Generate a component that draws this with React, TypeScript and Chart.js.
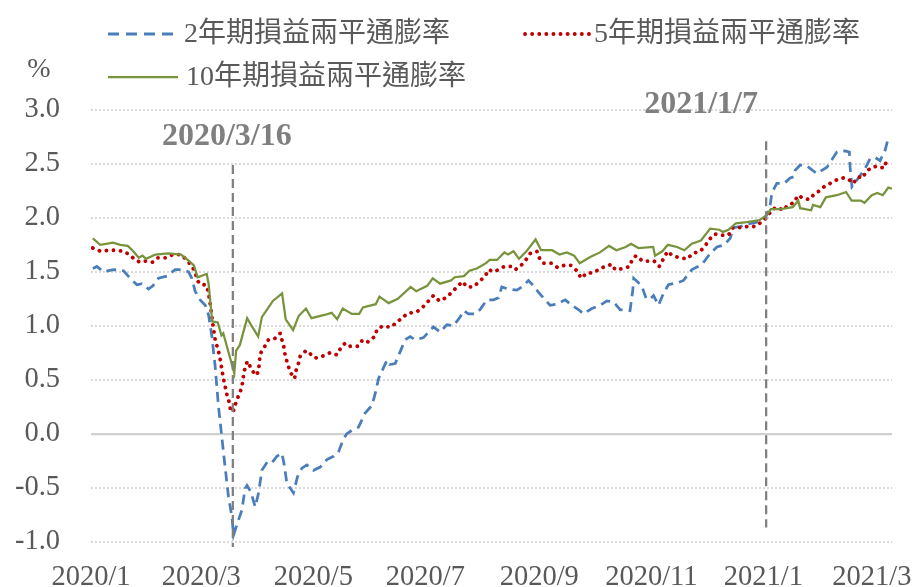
import React, { useEffect, useRef } from 'react';
import { Chart, registerables } from 'chart.js';

Chart.register(...registerables);

// x values are days counted from 2020-01-01
const tickDays = [0, 60, 121, 182, 244, 305, 366, 425];
const tickLabels = ['2020/1', '2020/3', '2020/5', '2020/7', '2020/9', '2020/11', '2021/1', '2021/3'];

const seriesNames = ['2年期損益兩平通膨率', '5年期損益兩平通膨率', '10年期損益兩平通膨率'];
const unitLabel = '%';

const days2y = [1,3.2,6.8,12.2,17.7,21.3,25,27.7,31.3,33.7,36.7,41.3,45.8,49.5,53.1,54.9,56.7,59.4,62.2,64,65.8,67.6,69.4,71.2,73,74.8,76.7,77.6,79.7,82.1,83.9,84.9,87,89.4,91.2,93,96.1,98.5,101.2,103.9,105.2,106.6,110.2,112.4,114.8,117.5,121.1,124.8,128.4,132,134.7,137.4,139.3,142,145.6,149.2,152.9,154.7,156.5,159.2,161.1,162.5,165.6,168.3,171,173.7,176.5,181,183.7,186.4,190.1,193.7,197.3,200.9,202.8,205.5,209.1,211.8,215.5,219.1,221.8,223.6,227.2,231.8,235.4,238.1,240.9,243.6,247.2,249.9,253.6,258.1,261.7,265.3,268.1,272.6,277.1,280.8,284.4,288,293.4,294.9,295.4,299.8,302.2,304.4,306.2,308.9,311.6,314.3,319.6,322.5,327.1,332.7,337,340.7,344.7,347.9,349.7,353.4,357,362.5,366,367.9,369.7,370.6,373.3,377.3,380.6,382.4,383.3,386,389.7,395.1,400.6,406,410.5,412.8,413.2,414.2,417.8,421.4,424.1,426.8,429.5,432.3,433.5,435.4];
const vals2y = [1.53,1.55,1.50,1.52,1.51,1.44,1.38,1.39,1.34,1.37,1.44,1.46,1.52,1.52,1.50,1.44,1.32,1.24,1.19,1.10,0.90,0.62,0.25,-0.03,-0.31,-0.58,-0.77,-0.94,-0.83,-0.71,-0.51,-0.48,-0.54,-0.68,-0.55,-0.34,-0.26,-0.27,-0.21,-0.18,-0.29,-0.46,-0.55,-0.40,-0.32,-0.29,-0.34,-0.31,-0.24,-0.21,-0.17,-0.05,0.00,0.03,0.06,0.19,0.26,0.37,0.51,0.61,0.68,0.64,0.65,0.76,0.87,0.90,0.87,0.89,0.94,0.99,0.94,1.01,1.00,1.08,1.14,1.11,1.11,1.15,1.24,1.24,1.26,1.36,1.34,1.33,1.37,1.42,1.37,1.31,1.24,1.19,1.20,1.24,1.19,1.15,1.11,1.16,1.19,1.23,1.22,1.15,1.14,1.33,1.44,1.37,1.25,1.25,1.28,1.19,1.30,1.38,1.40,1.42,1.52,1.57,1.67,1.73,1.75,1.81,1.91,1.92,1.94,1.96,1.98,2.03,2.12,2.23,2.32,2.32,2.37,2.38,2.44,2.49,2.48,2.41,2.47,2.61,2.62,2.61,2.47,2.29,2.37,2.46,2.55,2.56,2.53,2.63,2.71,2.67];

const days5y = [1,5.4,9.5,13.6,17.4,21,24,26.8,29.9,33.5,36.4,40.9,44.6,48.9,52.2,54.9,56.7,57.8,59.8,62.5,63.6,64.5,66.3,67.6,69.9,72.1,74,75.4,76.1,77.9,79,80.8,82.1,82.7,83.4,84.9,85.7,87,89.9,91.2,91.6,92.1,94.3,96.6,99.9,103,103.9,105.2,105.7,107,108.4,110.8,111.5,112.9,113.9,117.1,119.3,122,126.2,130.2,133.8,136.2,138.4,141.1,145.3,147.9,150.9,154.4,155.8,159.2,161.4,163.8,166.5,168.8,171.9,174.3,177.4,181,183.7,186.4,189.7,193.3,196.4,199.2,202.2,204.6,208.2,211.3,214.6,216.4,219.6,222.7,225.1,228.7,230.9,233.6,236.7,239.1,242.7,244.5,246.3,250.5,253.9,257.7,261.2,264.5,266.8,269.9,273.5,277.1,279.9,283.5,285.3,289.8,293.2,294.7,296.7,300.2,304.4,306.5,309.3,311.6,313.8,316.5,320.3,324.7,327.4,331.6,334.3,336.6,339.4,343.4,347,349.4,353.4,357.3,361.5,364.8,368.3,370.2,373.3,376.9,379.3,382.6,384.8,387.8,391.1,393.6,396.5,399.1,402.4,405.6,409.4,412.2,414.9,417.6,420.1,421.9,425.2,428.2,431.6,433.1];
const vals5y = [1.72,1.69,1.70,1.70,1.69,1.66,1.61,1.59,1.60,1.59,1.63,1.63,1.66,1.66,1.61,1.55,1.50,1.42,1.38,1.38,1.33,1.25,1.02,0.87,0.73,0.51,0.36,0.28,0.20,0.22,0.30,0.37,0.43,0.50,0.58,0.66,0.67,0.60,0.54,0.58,0.66,0.74,0.80,0.87,0.88,0.93,0.87,0.79,0.72,0.65,0.57,0.51,0.58,0.65,0.72,0.77,0.74,0.70,0.72,0.75,0.73,0.80,0.84,0.81,0.81,0.87,0.85,0.90,0.97,1.00,0.99,0.99,1.04,1.06,1.11,1.12,1.13,1.18,1.23,1.28,1.23,1.26,1.31,1.36,1.41,1.36,1.36,1.41,1.46,1.52,1.50,1.53,1.55,1.55,1.52,1.55,1.61,1.67,1.69,1.61,1.58,1.58,1.54,1.56,1.56,1.51,1.44,1.49,1.49,1.53,1.55,1.57,1.52,1.53,1.55,1.62,1.65,1.60,1.60,1.60,1.55,1.62,1.69,1.65,1.63,1.62,1.67,1.69,1.74,1.80,1.85,1.84,1.84,1.91,1.91,1.92,1.92,1.96,2.01,2.07,2.10,2.07,2.12,2.14,2.21,2.18,2.17,2.22,2.25,2.29,2.32,2.35,2.37,2.36,2.32,2.38,2.37,2.43,2.47,2.48,2.46,2.53];

const days10y = [1,5,12,16,20,23,26,28,30,35,42,49,52,56,58,63,64,66,69,71,72,78,79,81,85,87,91,93,99,104,106,110,113,117,120,127,131,134,137,142,146,148,155,157,162,167,174,177,183,186,190,196,198,203,206,210,215,217,221,225,227,230,233,237,242,245,251,255,259,263,266,272,277,282,286,291,294,298,306,307,311,314,319,323,327,332,337,342,344,347,351,357,364,368,370,375,382,385,386,392,393,397,400,406,411,414,419,421,425,428,431,434,436];
const vals10y = [1.81,1.75,1.77,1.75,1.74,1.69,1.63,1.65,1.62,1.66,1.67,1.66,1.62,1.56,1.45,1.48,1.39,1.04,1.03,0.91,0.93,0.56,0.77,0.82,1.07,1.01,0.90,1.08,1.23,1.30,1.06,0.96,1.09,1.16,1.07,1.10,1.12,1.06,1.16,1.11,1.11,1.17,1.20,1.27,1.21,1.25,1.36,1.32,1.37,1.44,1.39,1.42,1.45,1.46,1.51,1.53,1.58,1.61,1.61,1.68,1.66,1.69,1.62,1.69,1.80,1.70,1.70,1.66,1.68,1.65,1.58,1.64,1.68,1.74,1.70,1.73,1.76,1.72,1.73,1.65,1.69,1.75,1.73,1.70,1.76,1.79,1.90,1.89,1.87,1.89,1.95,1.96,1.98,2.03,2.08,2.08,2.10,2.16,2.09,2.07,2.12,2.10,2.19,2.21,2.24,2.16,2.16,2.14,2.21,2.23,2.21,2.28,2.27];

const annotationLabels = ['2020/3/16', '2021/1/7'];

const COLORS = { blue: '#4a7ebb', red: '#c00000', green: '#77933c', gray: '#7f7f7f', text: '#595959' };
const SERIF = '"Liberation Serif", "Times New Roman", serif';
const LEGEND_FONT = '28px "Liberation Serif", "Noto Sans CJK TC", serif';

const toPoints = (xs: number[], ys: number[]) => xs.map((x, i) => ({ x, y: ys[i] }));

// Annotation geometry in data units (x: day, y: value)
const annotations = [
  { lineX: 77.2, yTop: 2.49, yBottom: -1.05, textX: 73.9, textY: 2.75, label: annotationLabels[0] },
  { lineX: 367.5, yTop: 2.71, yBottom: -0.87, textX: 332.1, textY: 3.05, label: annotationLabels[1] },
];

const overlayPlugin = {
  id: 'overlay',
  afterDatasetsDraw(chart: any) {
    const { ctx, scales } = chart;
    const xs = scales.x;
    const ys = scales.y;
    ctx.save();
    annotations.forEach((a) => {
      const px = xs.getPixelForValue(a.lineX);
      ctx.strokeStyle = COLORS.gray;
      ctx.lineWidth = 2.25;
      ctx.setLineDash([9, 5]);
      ctx.beginPath();
      ctx.moveTo(px, ys.getPixelForValue(a.yTop));
      ctx.lineTo(px, ys.getPixelForValue(a.yBottom));
      ctx.stroke();
      ctx.setLineDash([]);
      ctx.fillStyle = COLORS.gray;
      ctx.font = 'bold 32px ' + SERIF;
      ctx.textAlign = 'center';
      ctx.textBaseline = 'middle';
      ctx.fillText(a.label, xs.getPixelForValue(a.textX), ys.getPixelForValue(a.textY));
    });
    ctx.restore();
  },
  afterDraw(chart: any) {
    const { ctx } = chart;
    ctx.save();
    const drawSample = (x0: number, x1: number, y: number, color: string, width: number, dash: number[], cap: CanvasLineCap) => {
      ctx.strokeStyle = color;
      ctx.lineWidth = width;
      ctx.lineCap = cap;
      ctx.setLineDash(dash);
      ctx.beginPath();
      ctx.moveTo(x0, y);
      ctx.lineTo(x1, y);
      ctx.stroke();
      ctx.setLineDash([]);
      ctx.lineCap = 'butt';
    };
    drawSample(108, 175, 34, COLORS.blue, 3, [11, 7], 'butt');
    drawSample(525, 590, 34, COLORS.red, 3.8, [0.1, 7], 'round');
    drawSample(108, 178, 77, COLORS.green, 2.25, [], 'butt');

    ctx.fillStyle = COLORS.text;
    ctx.font = LEGEND_FONT;
    ctx.textAlign = 'left';
    ctx.textBaseline = 'middle';
    ctx.fillText(seriesNames[0], 184, 35);
    ctx.fillText(seriesNames[1], 594, 35);
    ctx.fillText(seriesNames[2], 186, 78);

    ctx.font = '28px ' + SERIF;
    ctx.textAlign = 'center';
    ctx.fillText(unitLabel, 39, 70);
    ctx.restore();
  },
};

const zeroPadding = (s: any) => {
  s.paddingLeft = 0;
  s.paddingRight = 0;
  s.paddingTop = 0;
  s.paddingBottom = 0;
};

export default function App() {
  const canvasRef = useRef<HTMLCanvasElement | null>(null);

  useEffect(() => {
    const canvas = canvasRef.current;
    if (!canvas) return;
    const chart = new Chart(canvas, {
      type: 'line',
      data: {
        datasets: [
          {
            label: seriesNames[0],
            data: toPoints(days2y, vals2y),
            borderColor: COLORS.blue,
            borderWidth: 2.75,
            borderDash: [10, 6],
            pointRadius: 0,
            tension: 0,
            order: 3,
          },
          {
            label: seriesNames[1],
            data: toPoints(days5y, vals5y),
            borderColor: COLORS.red,
            borderWidth: 3.8,
            borderDash: [0.1, 7],
            borderCapStyle: 'round',
            pointRadius: 0,
            tension: 0,
            order: 2,
          },
          {
            label: seriesNames[2],
            data: toPoints(days10y, vals10y),
            borderColor: COLORS.green,
            borderWidth: 2.25,
            pointRadius: 0,
            tension: 0,
            order: 1,
          },
        ],
      },
      options: {
        responsive: false,
        animation: false,
        devicePixelRatio: 1,
        layout: { padding: { top: 110, right: 22, left: 0, bottom: 0 } },
        plugins: { legend: { display: false }, tooltip: { enabled: false } },
        scales: {
          x: {
            type: 'linear',
            min: 0,
            max: 436,
            grid: { display: false },
            border: { display: false },
            afterBuildTicks: (s: any) => {
              s.ticks = tickDays.map((v) => ({ value: v }));
            },
            afterFit: (s: any) => {
              s.height = 45.5;
              zeroPadding(s);
            },
            ticks: {
              autoSkip: false,
              maxRotation: 0,
              minRotation: 0,
              padding: 11,
              color: COLORS.text,
              font: { family: SERIF, size: 28.5 },
              callback: (v: any) => {
                const i = tickDays.indexOf(Number(v));
                return i >= 0 ? tickLabels[i] : '';
              },
            },
          },
          y: {
            type: 'linear',
            min: -1,
            max: 3,
            afterFit: (s: any) => {
              s.width = 91;
              zeroPadding(s);
            },
            ticks: {
              stepSize: 0.5,
              padding: 31,
              color: COLORS.text,
              font: { family: SERIF, size: 28.5 },
              callback: (v: any) => Number(v).toFixed(1),
            },
            grid: {
              drawTicks: false,
              tickLength: 0,
              color: (c: any) => (c.tick && Math.abs(c.tick.value) < 1e-9 ? '#d0d0d0' : '#d9d9d9'),
              lineWidth: (c: any) => (c.tick && Math.abs(c.tick.value) < 1e-9 ? 2.25 : 2),
            },
            border: {
              display: false,
              dash: (c: any) => (c.tick && Math.abs(c.tick.value) < 1e-9 ? [] : [2, 2]),
            },
          },
        },
      },
      plugins: [overlayPlugin],
    } as any);
    return () => chart.destroy();
  }, []);

  return (
    <div style={{ position: 'fixed', left: 0, top: 0, width: 914, height: 587, background: '#ffffff' }}>
      <canvas ref={canvasRef} width={914} height={587} style={{ width: 914, height: 587, display: 'block' }} />
    </div>
  );
}
